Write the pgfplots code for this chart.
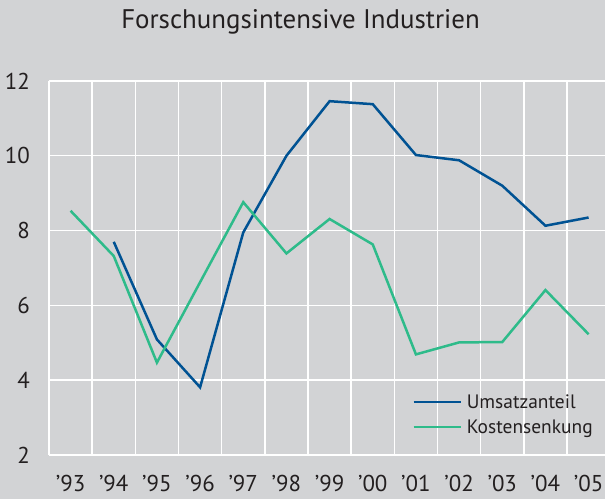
\documentclass[border=0pt]{standalone}
\usepackage{pgfplots}
\pgfplotsset{compat=1.18}
\usepackage{fontspec}
\setmainfont{PT Sans}
\definecolor{bg}{HTML}{D2D3D5}
\definecolor{ublue}{HTML}{005293}
\definecolor{kgreen}{HTML}{2EBB8A}
\definecolor{txt}{HTML}{231F20}
\begin{document}
\begin{tikzpicture}[x=1bp,y=1bp]
\useasboundingbox (0,0) rectangle (605,499);
\fill[bg] (0,0) rectangle (605,499);
\node[text=txt, font=\fontsize{27}{32}\selectfont, anchor=base] at (300.5,470) {Forschungsintensive Industrien};
\begin{axis}[
  at={(49bp,44bp)}, anchor=south west,
  width=556bp, height=374bp, scale only axis,
  xmin=-0.5, xmax=12.38, ymin=2, ymax=12,
  axis line style={draw=none},
  major tick length=0pt, minor tick length=0pt,
  ytick={2,4,...,12},
  xtick={0,...,12},
  xticklabels={’93,’94,’95,’96,’97,’98,’99,’00,’01,’02,’03,’04,’05},
  minor xtick={-0.5,0.5,...,11.5},
  xminorgrids, ymajorgrids,
  major grid style={white, line width=1.4bp},
  minor grid style={white, line width=1.4bp},
  /pgf/number format/assume math mode=true,
  tick label style={font=\fontsize{23}{26}\selectfont, text=txt, inner sep=0pt},
  yticklabel style={anchor=east, xshift=-19bp},
  xticklabel style={anchor=base, yshift=-37bp},
  legend style={draw=none, fill=none, at={(0.653,0.168)}, anchor=north west,
    font=\fontsize{19.5}{23}\selectfont, text=txt, inner sep=0pt, row sep=6bp,
    nodes={inner xsep=5bp}},
  legend cell align=left,
  legend image code/.code={\draw[#1] (0bp,0bp) -- (47bp,0bp);},
]
\addplot[ublue, line width=2.5bp] coordinates {
(1,7.70) (2,5.09) (3,3.81) (4,7.95) (5,10.0) (6,11.46) (7,11.38) (8,10.02) (9,9.88) (10,9.20) (11,8.13) (12,8.35)
};
\addlegendentry{Umsatzanteil}
\addplot[kgreen, line width=2.5bp] coordinates {
(0,8.53) (1,7.32) (2,4.47) (3,6.62) (4,8.76) (5,7.39) (6,8.31) (7,7.63) (8,4.69) (9,5.01) (10,5.02) (11,6.41) (12,5.23)
};
\addlegendentry{Kostensenkung}
\end{axis}
\end{tikzpicture}
\end{document}
